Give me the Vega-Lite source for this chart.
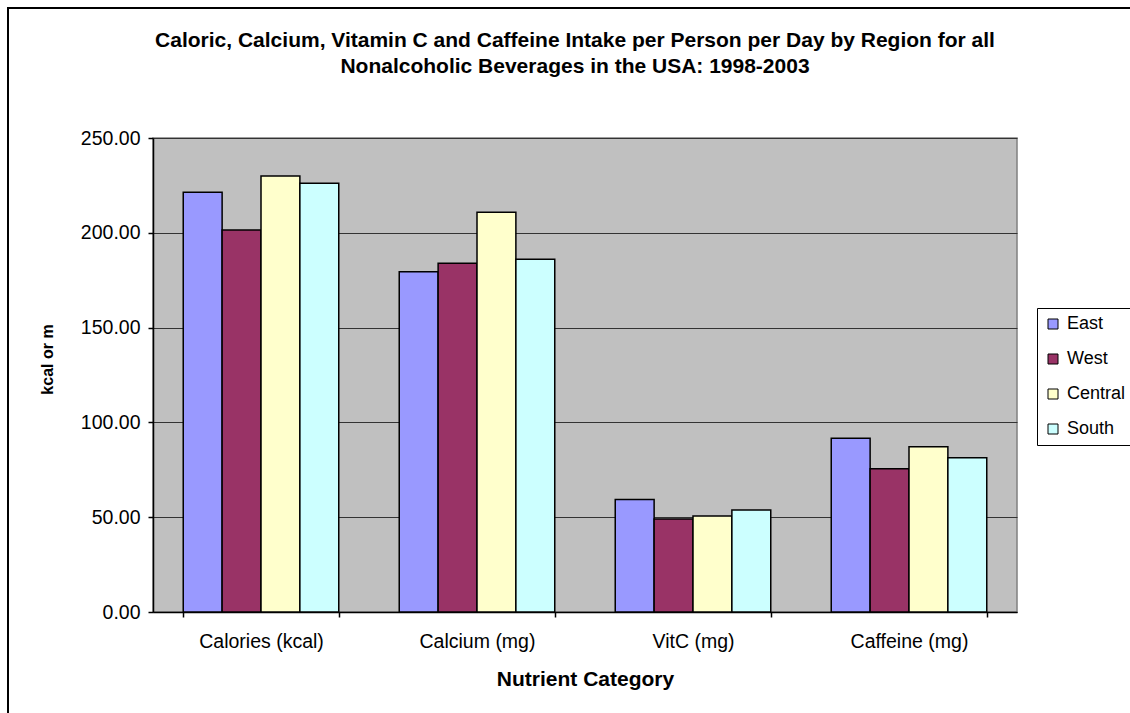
{
  "$schema": "https://vega.github.io/schema/vega-lite/v6.json",
  "width": 864,
  "height": 474,
  "autosize": {"type": "none"},
  "padding": {"left": 153, "top": 138, "right": 113, "bottom": 101},
  "background": "white",
  "title": {
    "text": ["Caloric, Calcium, Vitamin C and Caffeine Intake per Person per Day by Region for all", "Nonalcoholic Beverages in the USA: 1998-2003"],
    "anchor": "middle",
    "dx": -10,
    "offset": -70,
    "font": "Liberation Sans",
    "fontSize": 21,
    "fontWeight": "bold",
    "lineHeight": 26,
    "color": "black"
  },
  "data": {
    "values": [
      {"nutrient": "Calories (kcal)", "region": "East", "value": 221.4},
      {"nutrient": "Calories (kcal)", "region": "West", "value": 201.5},
      {"nutrient": "Calories (kcal)", "region": "Central", "value": 230.0},
      {"nutrient": "Calories (kcal)", "region": "South", "value": 226.1},
      {"nutrient": "Calcium (mg)", "region": "East", "value": 179.5},
      {"nutrient": "Calcium (mg)", "region": "West", "value": 184.0},
      {"nutrient": "Calcium (mg)", "region": "Central", "value": 210.8},
      {"nutrient": "Calcium (mg)", "region": "South", "value": 186.0},
      {"nutrient": "VitC (mg)", "region": "East", "value": 59.4},
      {"nutrient": "VitC (mg)", "region": "West", "value": 49.0},
      {"nutrient": "VitC (mg)", "region": "Central", "value": 50.6},
      {"nutrient": "VitC (mg)", "region": "South", "value": 53.8},
      {"nutrient": "Caffeine (mg)", "region": "East", "value": 91.6},
      {"nutrient": "Caffeine (mg)", "region": "West", "value": 75.6},
      {"nutrient": "Caffeine (mg)", "region": "Central", "value": 87.2},
      {"nutrient": "Caffeine (mg)", "region": "South", "value": 81.4}
    ]
  },
  "layer": [
    {
      "mark": {"type": "rect", "x": -145, "y": -130, "x2": 1100, "y2": 700, "fill": null, "stroke": "black", "strokeWidth": 2},
      "encoding": {}
    },
    {
      "mark": {"type": "bar", "stroke": "black", "strokeWidth": 1.5},
      "encoding": {
        "x": {
          "field": "nutrient",
          "type": "nominal",
          "sort": ["Calories (kcal)", "Calcium (mg)", "VitC (mg)", "Caffeine (mg)"],
          "scale": {"paddingInner": 0.28, "paddingOuter": 0.14},
          "axis": {
            "title": "Nutrient Category",
            "titleFont": "Liberation Sans",
            "titleFontSize": 21,
            "titleFontWeight": "bold",
            "titleColor": "black",
            "titlePadding": 18,
            "labelAngle": 0,
            "labelFont": "Liberation Sans",
            "labelFontSize": 19.5,
            "labelColor": "black",
            "labelPadding": 15,
            "tickBand": "extent",
            "tickColor": "black",
            "tickSize": 5,
            "domainColor": "black",
            "grid": false
          }
        },
        "xOffset": {
          "field": "region",
          "type": "nominal",
          "sort": ["East", "West", "Central", "South"],
          "scale": {"paddingInner": 0, "paddingOuter": 0}
        },
        "y": {
          "field": "value",
          "type": "quantitative",
          "scale": {"domain": [0, 250], "nice": false},
          "axis": {
            "title": "kcal or m",
            "titleFont": "Liberation Sans",
            "titleFontSize": 16,
            "titleFontWeight": "bold",
            "titleColor": "black",
            "titlePadding": 25,
            "titleY": 221,
            "values": [0, 50, 100, 150, 200, 250],
            "format": ".2f",
            "labelFont": "Liberation Sans",
            "labelFontSize": 19.5,
            "labelColor": "black",
            "labelPadding": 8,
            "tickColor": "black",
            "tickSize": 5,
            "domainColor": "black",
            "grid": true,
            "gridColor": "#333333",
            "gridWidth": 1
          }
        },
        "color": {
          "field": "region",
          "type": "nominal",
          "sort": ["East", "West", "Central", "South"],
          "scale": {
            "domain": ["East", "West", "Central", "South"],
            "range": ["#9999FF", "#993366", "#FFFFCC", "#CCFFFF"]
          },
          "legend": {
            "title": null,
            "orient": "none",
            "legendX": 884,
            "legendY": 170,
            "padding": 7,
            "strokeColor": "black",
            "fillColor": "white",
            "symbolType": "square",
            "symbolSize": 100,
            "symbolStrokeColor": "black",
            "symbolStrokeWidth": 1,
            "symbolOpacity": 1,
            "labelFont": "Liberation Sans",
            "labelFontSize": 18,
            "labelColor": "black",
            "labelOffset": 5,
            "rowPadding": 17
          }
        }
      }
    }
  ],
  "config": {
    "view": {"fill": "#C0C0C0", "stroke": "#808080", "strokeWidth": 1.5},
    "axis": {"domainWidth": 1.5, "tickWidth": 1.5}
  }
}
